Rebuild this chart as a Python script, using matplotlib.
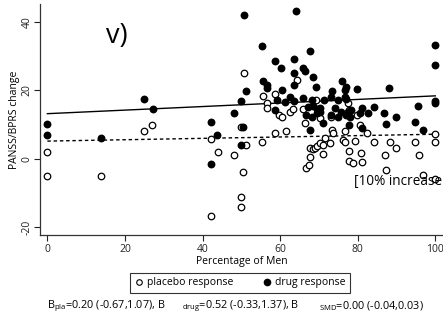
import matplotlib
matplotlib.use("Agg")
import matplotlib.pyplot as plt
from matplotlib.lines import Line2D

plt.rcParams['font.family'] = ['Open Sans', 'DejaVu Sans']
plt.rcParams['mathtext.default'] = 'regular'

# ---- data ----
pla_men = [0, 0, 13.8, 25, 27.1, 42.3, 42.3, 43.9, 48.1, 49.8, 49.9, 49.9, 50.5, 50.7,
           51.3, 55.4, 55.6, 56.6, 56.5, 58.6, 58.8, 59.7, 60.4, 61.4, 62.5, 63.3, 64.3,
           65.8, 66.4, 66.8, 67.5, 67.7, 67.7, 68.4, 69.0, 69.2, 69.5, 70.2, 70.2, 71.1,
           71.1, 71.5, 72.8, 73.2, 73.3, 73.7, 76.2, 76.7, 76.7, 77.5, 77.8, 77.8, 77.7,
           78.9, 79.3, 79.7, 80.5, 80.8, 81.2, 82.5, 84.2, 87.0, 87.4, 88.3, 90.0, 94.7,
           95.8, 96.9, 100, 100, 100]
pla_resp = [2.1, -5.0, -5.0, 8.2, 9.9, 5.7, -16.8, 2.1, 1.0, 9.2, -11.0, -13.9, -3.7, 25.2,
            4.2, 5.0, 18.5, 16.4, 14.8, 18.9, 7.7, 12.8, 12.2, 8.0, 13.7, 14.6, 23.0,
            14.6, 10.4, -2.7, -1.7, 0.7, 3.1, 2.8, 3.1, 17.2, 3.8, 4.6, 11.9, 4.1,
            1.4, 6.0, 4.6, 12.2, 8.5, 7.5, 5.5, 8.0, 4.8, 16.2, 14.3, -0.5, 2.4,
            -1.3, 5.3, 12.8, 9.9, 1.6, -1.0, 7.5, 5.0, 1.2, -3.2, 5.0, 3.1, 5.0,
            1.2, -4.7, 7.2, 5.0, -5.8]

drug_men = [0, 0, 13.7, 25, 27.2, 42.2, 42.2, 43.8, 48.0, 49.9, 49.9, 50.4, 50.8, 51.3,
            55.4, 55.6, 56.6, 56.5, 58.6, 58.7, 59.2, 60.2, 60.4, 61.3, 62.5, 63.5, 63.5,
            63.5, 63.6, 64.2, 65.8, 66.4, 65.9, 66.8, 67.3, 67.7, 67.7, 68.1, 68.2, 68.5,
            68.5, 69.2, 69.4, 69.5, 70.2, 70.4, 71.1, 71.4, 73.1, 73.2, 73.5, 74.1, 75.0,
            75.0, 75.8, 76.0, 76.7, 76.7, 76.9, 76.9, 77.1, 77.5, 77.8, 78.0, 78.2, 79.7,
            80.5, 81.0, 81.2, 82.7, 84.2, 86.8, 87.4, 88.2, 89.8, 94.7, 95.6, 96.9,
            100, 100, 100, 100]
drug_resp = [10.1, 7.1, 6.1, 17.5, 14.7, 10.7, -1.5, 7.1, 13.3, 16.9, 4.0, 9.3, 41.9, 19.8,
             32.9, 22.8, 21.6, 20.8, 28.5, 14.2, 17.2, 26.6, 20.1, 16.7, 18.2, 17.0, 25.0,
             21.6, 29.1, 43.1, 26.4, 25.6, 17.9, 12.8, 15.1, 31.5, 8.3, 12.3, 17.2, 23.9,
             15.3, 21.0, 13.3, 14.5, 13.8, 14.8, 10.6, 17.2, 18.0, 12.8, 19.8, 14.8, 12.3,
             17.2, 13.8, 22.8, 20.1, 18.2, 20.9, 17.6, 12.8, 13.8, 9.9, 12.3, 14.3, 20.5,
             13.3, 14.8, 8.9, 13.3, 15.1, 13.5, 10.2, 20.8, 12.1, 10.7, 15.5, 8.3,
             33.1, 27.4, 17.0, 16.3]

fit_men = [0, 100]
pla_fit = [5.2, 7.2]
drug_fit = [13.2, 18.4]

x_ticks = [0, 20, 40, 60, 80, 100]
y_ticks = [-20, 0, 20, 40]

# ---- figure ----
fig = plt.figure(figsize=(4.43, 3.2), dpi=100)
ax = fig.add_axes([0.0903, 0.2656, 0.9097, 0.7219])

ax.plot(fit_men, drug_fit, color='black', lw=1.0, zorder=2)
ax.plot(fit_men, pla_fit, color='black', lw=1.0, ls=(0, (2.5, 2)), zorder=2)
ax.scatter(pla_men, pla_resp, s=22, facecolor='white', edgecolor='black',
           linewidths=0.9, zorder=3)
ax.scatter(drug_men, drug_resp, s=32, color='black', linewidths=0, zorder=4)

ax.set_xlim(-1.9, 102)
ax.set_ylim(-22.2, 45.2)
ax.set_xticks(x_ticks)
ax.set_yticks(y_ticks)
ax.set_yticklabels([str(v) for v in y_ticks], rotation=90, va='center')
ax.tick_params(direction='out', length=4.5, width=0.8, labelsize=7.5, colors='#222222')
ax.tick_params(axis='x', pad=2)
ax.tick_params(axis='y', pad=1)
for s in ['top', 'right']:
    ax.spines[s].set_visible(False)
for s in ['left', 'bottom']:
    ax.spines[s].set_color('#333333')
    ax.spines[s].set_linewidth(0.9)

ax.set_xlabel('Percentage of Men', fontsize=7.5, labelpad=1)
ax.set_ylabel('PANSS/BPRS change', fontsize=7.5, labelpad=1)

fig.text(106 / 443, 1 - 36 / 320, 'v)', fontsize=19.5, va='center', ha='left')
# the reference is cropped right after "increase"
fig.text(354 / 443, 1 - 182 / 320, '[10% increase', fontsize=9.8, va='center', ha='left')

handles = [
    Line2D([], [], ls='none', marker='o', markersize=4, markerfacecolor='white',
           markeredgecolor='black', markeredgewidth=0.8),
    Line2D([], [], ls='none', marker='o', markersize=4.5, color='black'),
]
leg = fig.legend(handles, ['placebo response', 'drug response'], loc='center',
                 bbox_to_anchor=(240 / 443, 1 - 283 / 320), ncol=2, fontsize=7.5,
                 frameon=True, fancybox=False, edgecolor='black', handlelength=0.8,
                 handletextpad=0.4, columnspacing=2.8, borderpad=0.4)
leg.get_frame().set_linewidth(0.8)

yb = 1 - 306 / 320
fig.text(47 / 443, yb, r'B$_{pla}$=0.20 (-0.67,1.07), B', fontsize=7.8, va='center', ha='left')
fig.text(182 / 443, yb, r'${}_{drug}$=0.52 (-0.33,1.37), B', fontsize=7.8, va='center', ha='left')
fig.text(319 / 443, yb, r'${}_{SMD}$=0.00 (-0.04,0.03)', fontsize=7.8, va='center', ha='left')

fig.savefig('out.png', dpi=100)
